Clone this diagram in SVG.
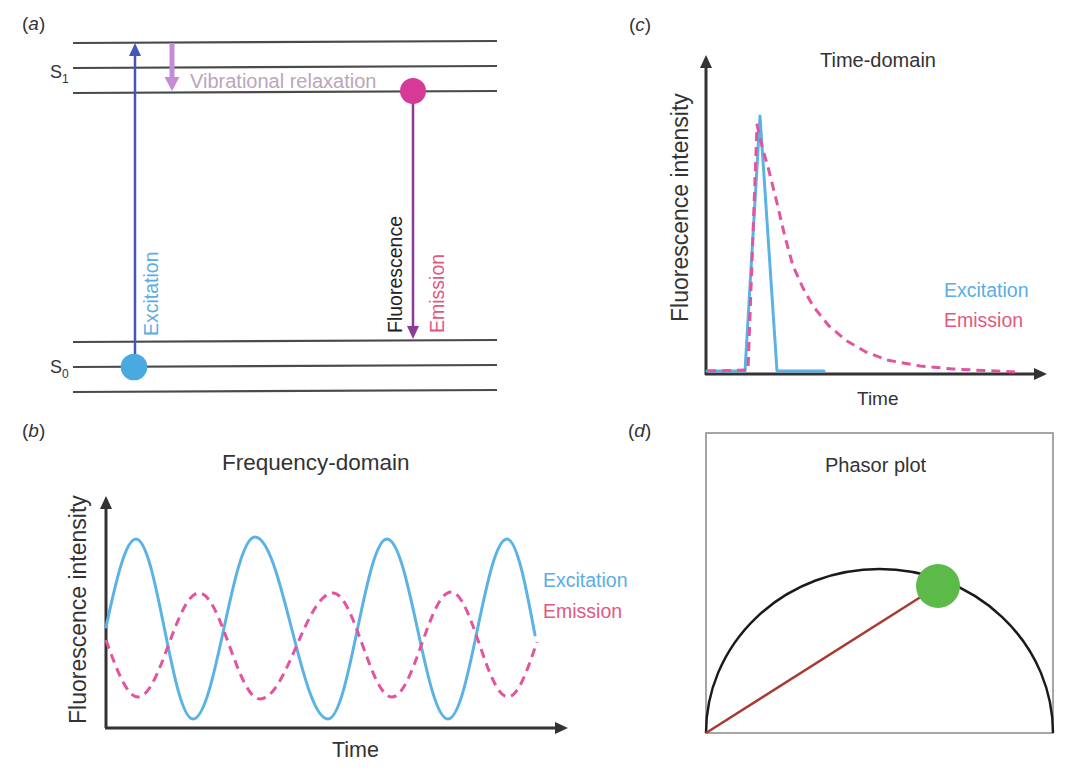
<svg xmlns="http://www.w3.org/2000/svg" width="1080" height="775" viewBox="0 0 1080 775">
<defs>
<style>
text{font-family:"Liberation Sans",Arial,sans-serif;fill:#333}
.lvl{stroke:#4a4a4a;stroke-width:2.2;fill:none}
.axis{stroke:#333;stroke-width:3;fill:none;marker-end:url(#ahBlack)}
.exc{stroke:#5bb3e5;stroke-width:3;fill:none;stroke-linejoin:round;stroke-linecap:round}
.emi{stroke:#e2559e;stroke-width:3;fill:none;stroke-dasharray:9 6;stroke-linejoin:round}
.plbl{font-size:19px}
.ylbl{font-size:23px}
.leg{font-size:19.5px}
.cExc{fill:#5aaee3}
.cEmi{fill:#e2587f}
</style>
<marker id="ahBlack" viewBox="0 0 13 12" refX="3" refY="6" markerWidth="13" markerHeight="12" markerUnits="userSpaceOnUse" orient="auto"><path d="M0,0 L13,6 L0,12 z" fill="#333"/></marker>
<marker id="ahBlue" viewBox="0 0 13 12" refX="3" refY="6" markerWidth="13" markerHeight="12" markerUnits="userSpaceOnUse" orient="auto"><path d="M0,0 L13,6 L0,12 z" fill="#4456b8"/></marker>
<marker id="ahLilac" viewBox="0 0 14 15" refX="3" refY="7.5" markerWidth="14" markerHeight="15" markerUnits="userSpaceOnUse" orient="auto"><path d="M0,0 L14,7.5 L0,15 z" fill="#c48cd6"/></marker>
<marker id="ahPurple" viewBox="0 0 13 12" refX="3" refY="6" markerWidth="13" markerHeight="12" markerUnits="userSpaceOnUse" orient="auto"><path d="M0,0 L13,6 L0,12 z" fill="#8c3c96"/></marker>
</defs>
<rect width="1080" height="775" fill="#ffffff"/>

<!-- Panel (a): Jablonski diagram -->
<g id="panel-a">
<text class="plbl" x="22" y="30">(<tspan font-style="italic">a</tspan>)</text>
<g id="levels">
<line class="lvl" x1="73" y1="43" x2="497" y2="41"/>
<line class="lvl" x1="73" y1="68" x2="497" y2="66"/>
<line class="lvl" x1="73" y1="93" x2="497" y2="91"/>
<line class="lvl" x1="73" y1="342" x2="497" y2="340"/>
<line class="lvl" x1="73" y1="367" x2="497" y2="365"/>
<line class="lvl" x1="73" y1="392" x2="497" y2="390"/>
</g>
<g id="label-S1"><text x="50" y="78" font-size="18">S<tspan font-size="12" dy="5">1</tspan></text></g>
<g id="label-S0"><text x="50" y="373" font-size="18">S<tspan font-size="12" dy="5">0</tspan></text></g>
<g id="connectors-a">
<line x1="135" y1="367" x2="135" y2="53" stroke="#4456b8" stroke-width="2.5" marker-end="url(#ahBlue)"/>
<line x1="172" y1="43" x2="172" y2="80" stroke="#c48cd6" stroke-width="5" marker-end="url(#ahLilac)"/>
<line x1="413" y1="91" x2="413" y2="329" stroke="#8c3c96" stroke-width="2.5" marker-end="url(#ahPurple)"/>
</g>
<g id="ground-electron"><circle cx="134" cy="367" r="13.3" fill="#4aaae0"/></g>
<g id="excited-electron"><circle cx="413" cy="91" r="13" fill="#d63a96"/></g>
<text x="190" y="88" font-size="20" style="fill:#bba5bb">Vibrational relaxation</text>
<text class="leg cExc" transform="translate(158,336) rotate(-90)">Excitation</text>
<text class="leg" transform="translate(402,333) rotate(-90)" style="fill:#222">Fluorescence</text>
<text class="leg cEmi" transform="translate(444,333) rotate(-90)">Emission</text>
</g>

<!-- Panel (b): Frequency-domain -->
<g id="panel-b">
<text class="plbl" x="22" y="437">(<tspan font-style="italic">b</tspan>)</text>
<text x="222" y="470" font-size="22.5">Frequency-domain</text>
<g id="axes-b">
<line class="axis" x1="106" y1="728" x2="106" y2="506"/>
<line class="axis" x1="105" y1="728" x2="558" y2="728"/>
</g>
<text class="ylbl" transform="translate(86,724) rotate(-90)">Fluorescence intensity</text>
<text x="332" y="757" font-size="21.5">Time</text>
<path id="b-excitation" class="exc" d="M106,627 C115.8,582 125.4,539 136,539 C156.7,539 172.3,719 193,719 C215.6,719 232.4,537 255,537 C281.6,537 301.4,719 328,719 C349.5,719 365.5,539 387,539 C409.2,539 425.8,719 448,719 C469.5,719 485.5,539 507,539 C516.9,539 525.9,586 535,635"/>
<path id="b-emission" class="emi" d="M106,640 C116.4,669 126.7,697 138,697 C160.2,697 176.8,593 199,593 C221.2,593 237.8,699 260,699 C286.6,699 306.4,593 333,593 C354.5,593 370.5,697 392,697 C413.5,697 429.5,592 451,592 C471.7,592 487.3,697 508,697 C518.2,697 527.5,670 537,642"/>
<text class="leg cExc" x="543" y="587">Excitation</text>
<text class="leg cEmi" x="543" y="618">Emission</text>
</g>

<!-- Panel (c): Time-domain -->
<g id="panel-c">
<text class="plbl" x="629" y="31">(<tspan font-style="italic">c</tspan>)</text>
<text x="820" y="67" font-size="20">Time-domain</text>
<g id="axes-c">
<line class="axis" x1="706" y1="375" x2="706" y2="65"/>
<line class="axis" x1="705" y1="374" x2="1037" y2="374"/>
</g>
<text class="ylbl" transform="translate(688,322) rotate(-90)">Fluorescence intensity</text>
<text x="857" y="405" font-size="19">Time</text>
<path id="c-excitation" class="exc" d="M707,371 L745,371 L760,116 L777,371 L824,371"/>
<path id="c-emission" class="emi" d="M707,371 L748,370 L757,125 L763,150 L768,167 L777,203 L785,237 L793,266 L803,288 L813,306 L829,326 L847,341 L866,352 L887,360 L920,366 L953,369 L1015,372"/>
<text class="leg cExc" x="944" y="297">Excitation</text>
<text class="leg cEmi" x="944" y="327">Emission</text>
</g>

<!-- Panel (d): Phasor plot -->
<g id="panel-d">
<text class="plbl" x="628" y="437">(<tspan font-style="italic">d</tspan>)</text>
<rect x="706" y="433" width="347" height="300" fill="none" stroke="#888" stroke-width="1.5"/>
<text x="825" y="472" font-size="20">Phasor plot</text>
<path id="universal-circle" d="M706,733 A173.5,164 0 0 1 1053,733" fill="none" stroke="#1a1a1a" stroke-width="2.5"/>
<g id="connectors-d"><line x1="706" y1="733" x2="938" y2="586" stroke="#a83a32" stroke-width="2.5"/></g>
<g id="phasor-point"><circle cx="938" cy="586" r="22" fill="#5cba48"/></g>
</g>
</svg>
